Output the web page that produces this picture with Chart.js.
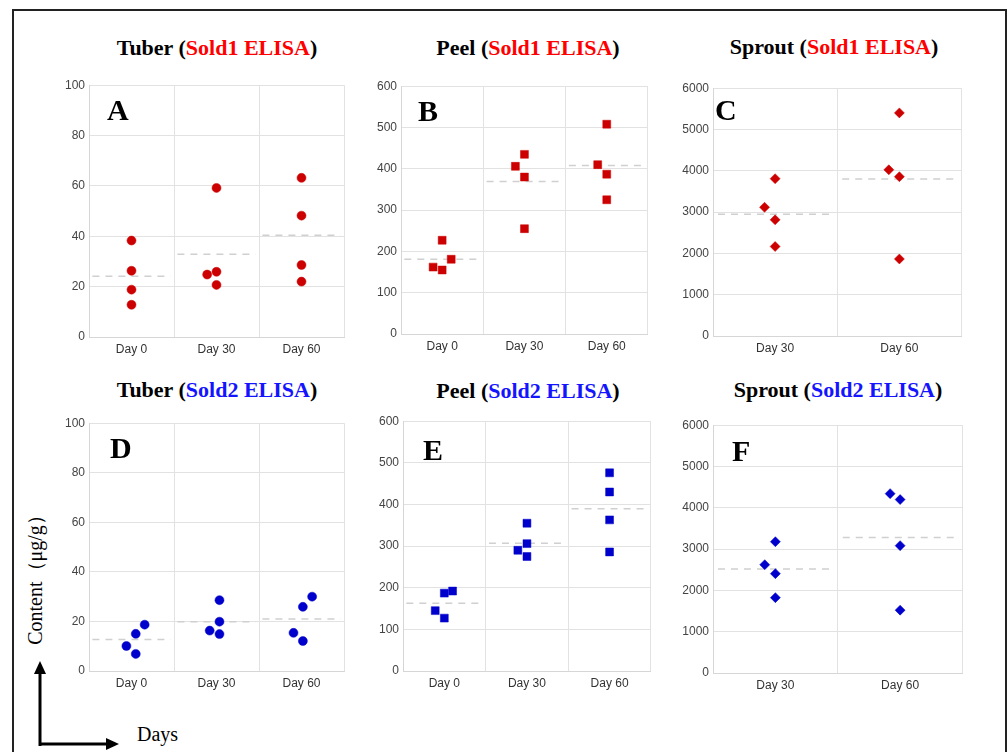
<!DOCTYPE html>
<html>
<head>
<meta charset="utf-8">
<script src="https://cdn.jsdelivr.net/npm/chart.js@4.4.1/dist/chart.umd.min.js"></script>
<style>
  body { margin: 0; background: #fff; width: 1007px; height: 752px; overflow: hidden; position: relative; }
  .frame { position: absolute; left: 12px; top: 9px; width: 995px; height: 800px; box-sizing: border-box;
           border: 2px solid #222; border-bottom: none; }
  .title { position: absolute; transform: translateX(-50%); white-space: nowrap;
           font: bold 22px "Liberation Serif", "Times New Roman", serif; line-height: 22px; color: #000; }
  .red { color: #ff0000; }
  .blue { color: #1414ff; }
  canvas { position: absolute; }
  .ylab { position: absolute; left: 35px; top: 575px; transform: translate(-50%, -50%) rotate(-90deg);
          white-space: nowrap; font: 20px "Liberation Serif", serif; }
  .days { position: absolute; left: 137px; top: 723px; font: 20px "Liberation Serif", serif; }
</style>
</head>
<body>
<div class="frame"></div>

<div class="title" style="left:217px;top:37px">Tuber (<span class="red">Sold1 ELISA</span>)</div>
<div class="title" style="left:528px;top:37px">Peel (<span class="red">Sold1 ELISA</span>)</div>
<div class="title" style="left:834px;top:36px">Sprout (<span class="red">Sold1 ELISA</span>)</div>
<div class="title" style="left:217px;top:379px">Tuber (<span class="blue">Sold2 ELISA</span>)</div>
<div class="title" style="left:528px;top:380px">Peel (<span class="blue">Sold2 ELISA</span>)</div>
<div class="title" style="left:838px;top:379px">Sprout (<span class="blue">Sold2 ELISA</span>)</div>

<canvas id="cA"></canvas>
<canvas id="cB"></canvas>
<canvas id="cC"></canvas>
<canvas id="cD"></canvas>
<canvas id="cE"></canvas>
<canvas id="cF"></canvas>

<div class="ylab">Content（μg/g）</div>
<div class="days">Days</div>
<svg width="1007" height="752" style="position:absolute;left:0;top:0">
  <line x1="40" y1="746" x2="40" y2="672" stroke="#000" stroke-width="3"/>
  <polygon points="40,661 34,674 46,674" fill="#000"/>
  <line x1="39" y1="744" x2="108" y2="744" stroke="#000" stroke-width="3"/>
  <polygon points="119,744 106,738 106,750" fill="#000"/>
</svg>

<script>
var dayLabels = ['Day 0', 'Day 30', 'Day 60'];
var sproutLabels = ['Day 30', 'Day 60'];

// Sold1 ELISA (red)
var tuber1 = [[38.3, 26.3, 18.8, 12.8], [59.2, 25.9, 24.8, 20.7], [63.2, 48.2, 28.6, 22.0]];
var tuber1Shift = [[0, 0, 0, 0], [0, 0, -0.11, 0], [0, 0, 0, 0]];
var tuber1Mean = [24.1, 32.9, 40.4];

var peel1 = [[227, 181, 162, 155], [435, 406, 380, 255], [508, 410, 387, 325]];
var peel1Shift = [[0, 0.11, -0.11, 0], [0, -0.11, 0, 0], [0, -0.11, 0, 0]];
var peel1Mean = [181, 369, 408];

var sprout1 = [[3809, 3116, 2813, 2167], [5402, 4024, 3857, 1865]];
var sprout1Shift = [[0, -0.085, 0, 0], [0, -0.085, 0, 0]];
var sprout1Mean = [2950, 3800];

// Sold2 ELISA (blue)
var tuber2 = [[18.7, 15.0, 10.1, 6.9], [28.6, 19.9, 16.3, 14.9], [30.0, 25.9, 15.4, 12.1]];
var tuber2Shift = [[0.155, 0.05, -0.06, 0.05], [0.035, 0.035, -0.08, 0.035], [0.125, 0.016, -0.094, 0.016]];
var tuber2Mean = [12.7, 19.9, 21.0];

var peel2 = [[192, 187, 145, 127], [355, 306, 290, 275], [476, 430, 363, 286]];
var peel2Shift = [[0.1, 0, -0.11, 0], [0, 0, -0.11, 0], [0, 0, 0, 0]];
var peel2Mean = [163, 307, 390];

var sprout2 = [[3179, 2622, 2406, 1825], [4343, 4199, 3084, 1522]];
var sprout2Shift = [[0, -0.085, 0, 0], [-0.08, 0, 0, 0]];
var sprout2Mean = [2518, 3283];

var RED = '#cc0000';
var BLUE = '#0000cc';
var YW = 40, XH = 24, PADT = 8, PADR = 4;

var letterPlugin = {
    id: 'letter',
    afterDatasetsDraw: function(chart, args, o) {
        var ctx = chart.ctx, a = chart.chartArea;
        ctx.save();
        ctx.font = 'bold 30px "Liberation Serif", serif';
        ctx.fillStyle = '#000';
        ctx.textBaseline = 'alphabetic';
        ctx.fillText(o.text, a.left + o.dx, a.top + o.dy);
        ctx.restore();
    }
};

function makePanel(id, box, cats, vals, shift, means, yMax, yStep, color, shape, radius, letter) {
    var canvas = document.getElementById(id);
    canvas.width = box.w + YW + PADR;
    canvas.height = box.h + PADT + XH;
    canvas.style.left = (box.x - YW) + 'px';
    canvas.style.top = (box.y - PADT) + 'px';

    var pts = [];
    for (var i = 0; i < vals.length; i++) {
        for (var j = 0; j < vals[i].length; j++) {
            pts.push({ x: i + shift[i][j], y: vals[i][j] });
        }
    }
    var datasets = [{
        data: pts,
        pointStyle: shape,
        pointRadius: radius,
        backgroundColor: color,
        borderColor: color,
        borderWidth: 0.5
    }];
    for (var k = 0; k < means.length; k++) {
        datasets.push({
            data: [{ x: k - 0.46, y: means[k] }, { x: k + 0.46, y: means[k] }],
            showLine: true,
            borderColor: '#d0d0d0',
            borderWidth: 1.5,
            borderDash: [7, 6],
            pointRadius: 0
        });
    }

    new Chart(canvas.getContext('2d'), {
        type: 'scatter',
        data: { datasets: datasets },
        plugins: [letterPlugin],
        options: {
            responsive: false,
            animation: false,
            layout: { padding: { top: PADT, right: PADR, left: 0, bottom: 0 } },
            plugins: {
                legend: { display: false },
                tooltip: { enabled: false },
                letter: letter
            },
            scales: {
                x: {
                    type: 'linear',
                    min: -0.5,
                    max: cats.length - 0.5,
                    afterFit: function(s) { s.height = XH; },
                    border: { color: '#d6d6d6' },
                    grid: {
                        drawTicks: false,
                        color: function(c) { return Number.isInteger(c.tick.value) ? 'rgba(0,0,0,0)' : '#e2e2e2'; }
                    },
                    ticks: {
                        stepSize: 0.5,
                        autoSkip: false,
                        maxRotation: 0,
                        padding: 5,
                        color: '#333',
                        font: { family: '"Liberation Sans", Arial, sans-serif', size: 12 },
                        callback: function(v) { return Number.isInteger(v) ? cats[v] : ''; }
                    }
                },
                y: {
                    min: 0,
                    max: yMax,
                    afterFit: function(s) { s.width = YW; },
                    border: { color: '#d6d6d6' },
                    grid: { drawTicks: false, color: '#e2e2e2' },
                    ticks: {
                        stepSize: yStep,
                        padding: 4,
                        color: '#444',
                        font: { family: '"Liberation Sans", Arial, sans-serif', size: 12 },
                        callback: function(v) { return String(v); }
                    }
                }
            }
        }
    });
}

makePanel('cA', { x: 89, y: 82, w: 256, h: 255 }, dayLabels, tuber1, tuber1Shift, tuber1Mean, 100, 20, RED, 'circle', 4.5, { text: 'A', dx: 18, dy: 35 });
makePanel('cB', { x: 401, y: 83, w: 249, h: 251 }, dayLabels, peel1, peel1Shift, peel1Mean, 600, 100, RED, 'rect', 5.6, { text: 'B', dx: 17, dy: 35 });
makePanel('cC', { x: 713, y: 85, w: 250, h: 251 }, sproutLabels, sprout1, sprout1Shift, sprout1Mean, 6000, 1000, RED, 'rectRot', 5, { text: 'C', dx: 2, dy: 32 });
makePanel('cD', { x: 89, y: 420, w: 256, h: 251 }, dayLabels, tuber2, tuber2Shift, tuber2Mean, 100, 20, BLUE, 'circle', 4.5, { text: 'D', dx: 21, dy: 35 });
makePanel('cE', { x: 403, y: 418, w: 250, h: 253 }, dayLabels, peel2, peel2Shift, peel2Mean, 600, 100, BLUE, 'rect', 5.6, { text: 'E', dx: 20, dy: 39 });
makePanel('cF', { x: 713, y: 422, w: 251, h: 251 }, sproutLabels, sprout2, sprout2Shift, sprout2Mean, 6000, 1000, BLUE, 'rectRot', 5, { text: 'F', dx: 19, dy: 36 });
</script>
</body>
</html>
